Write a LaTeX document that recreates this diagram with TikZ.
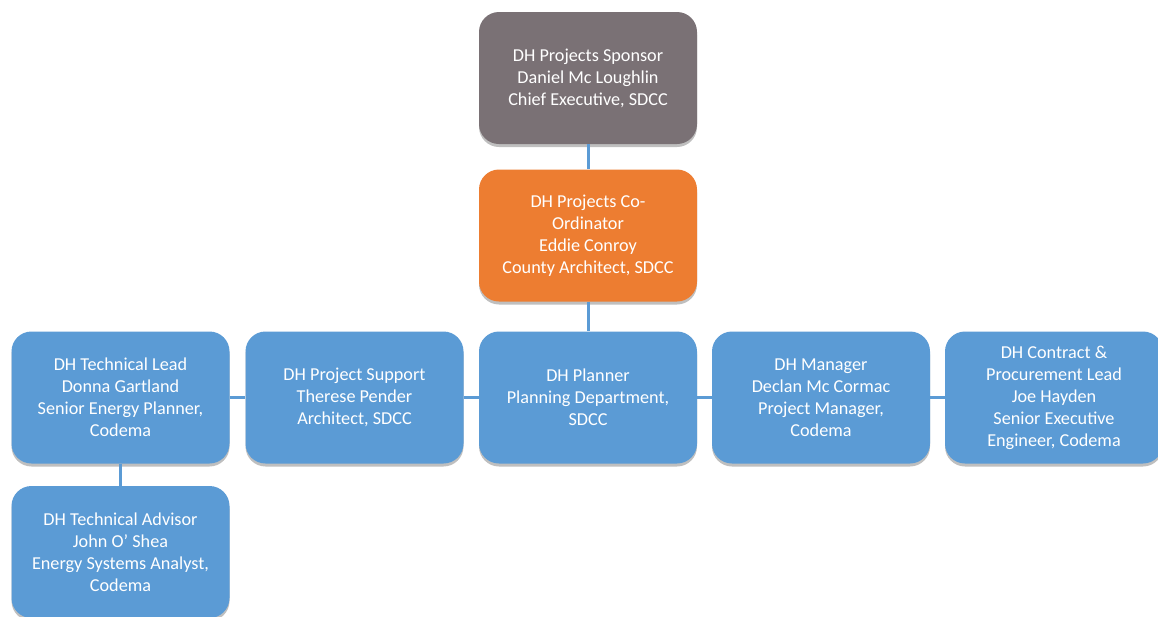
\documentclass[tikz,border=0pt]{standalone}
\usepackage{fontspec}
\setmainfont{Carlito}
\usetikzlibrary{shadows}

\definecolor{boxgray}{RGB}{122,113,117}
\definecolor{boxorange}{RGB}{237,125,49}
\definecolor{boxblue}{RGB}{91,155,213}

\tikzset{
  rolebox/.style={rounded corners=20pt,minimum width=218pt,minimum height=132pt,
    align=center,text=white,font=\fontsize{18.2}{22}\selectfont,inner sep=2pt,
    drop shadow={shadow xshift=0pt,shadow yshift=-3pt,opacity=0.25,fill=black}},
  link/.style={draw=boxblue,line width=3pt}
}

\begin{document}
\begin{tikzpicture}[x=1pt,y=-1pt]
          \useasboundingbox[fill=white] (0,0) rectangle (1158,616);
          \node[rolebox,fill=boxgray] (sponsor) at (588,78)
            {DH Projects Sponsor\\Daniel Mc Loughlin\\Chief Executive, SDCC};
          \node[rolebox,fill=boxorange] (coord) at (588,235.5)
            {DH Projects Co-\\Ordinator\\Eddie Conroy\\County Architect, SDCC};
          \node[rolebox,fill=boxblue] (lead) at (120.5,397.5)
            {DH Technical Lead\\Donna Gartland\\Senior Energy Planner,\\Codema};
          \node[rolebox,fill=boxblue] (support) at (354.5,397.5)
            {DH Project Support\\Therese Pender\\Architect, SDCC};
          \node[rolebox,fill=boxblue] (planner) at (588,397.5)
            {DH Planner\\Planning Department,\\SDCC};
          \node[rolebox,fill=boxblue] (manager) at (821,397.5)
            {DH Manager\\Declan Mc Cormac\\Project Manager,\\Codema};
          \node[rolebox,fill=boxblue] (contract) at (1054,397.5)
            {DH Contract \&\\Procurement Lead\\Joe Hayden\\Senior Executive\\Engineer, Codema};
          \node[rolebox,fill=boxblue] (advisor) at (120.5,552)
            {DH Technical Advisor\\John O’ Shea\\Energy Systems Analyst,\\Codema};
          \draw[link] (sponsor) -- (coord);
          \draw[link] (coord) -- (planner);
          \draw[link] (lead) -- (support);
          \draw[link] (support) -- (planner);
          \draw[link] (planner) -- (manager);
          \draw[link] (manager) -- (contract);
          \draw[link] (lead) -- (advisor);
        \end{tikzpicture}
\end{document}
